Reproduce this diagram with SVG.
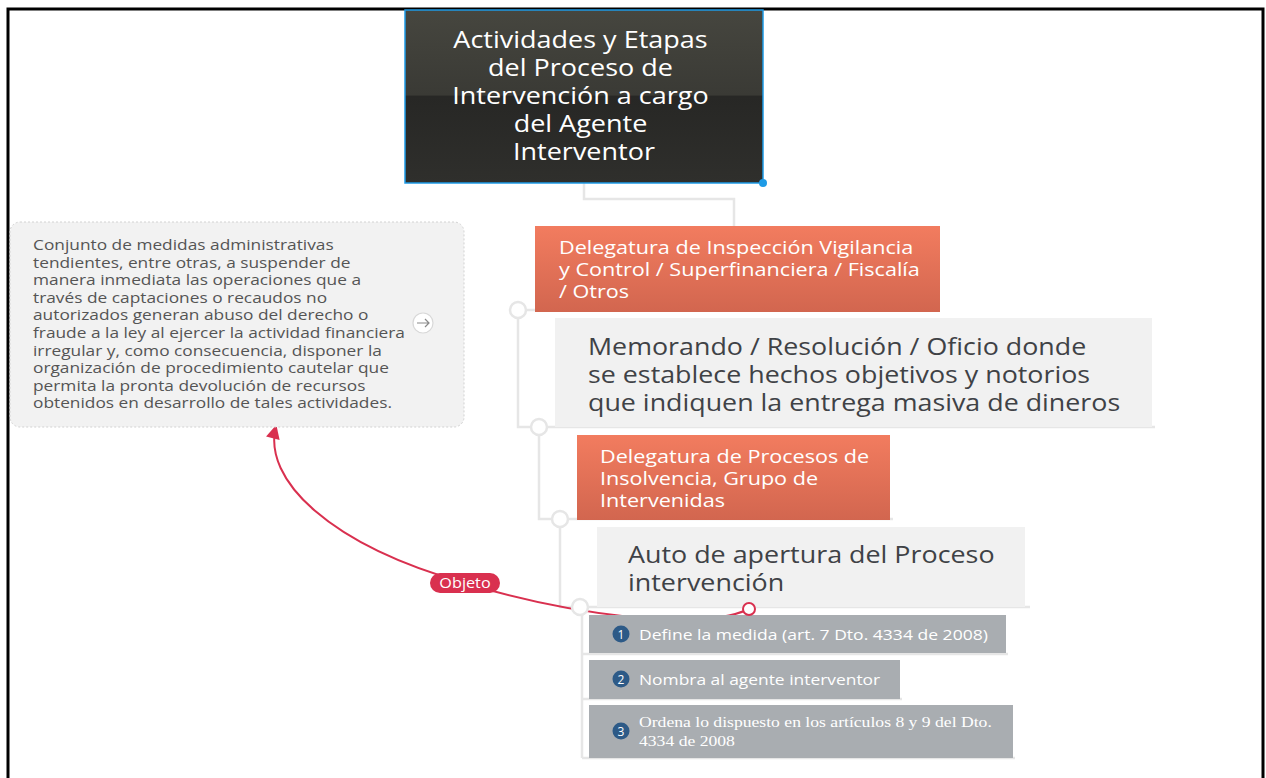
<svg xmlns="http://www.w3.org/2000/svg" width="1266" height="778" viewBox="0 0 1266 778">
<defs>
<style>
.sans{font-family:"Open Sans","Noto Sans","DejaVu Sans",sans-serif}
.root{fill:#ffffff;font-size:24px}
.org{fill:#ffffff;font-size:18px}
.big{fill:#3f4246;font-size:24px}
.note{fill:#555555;font-size:14px}
.item{fill:#ffffff;font-size:15px}
.tree{fill:none;stroke:#e6e6e6;stroke-width:2.5}
.knob{fill:#ffffff;stroke:#e6e6e6;stroke-width:2.5}
.num{fill:#2d5a87}
</style>
<linearGradient id="gRoot" x1="0" y1="0" x2="0" y2="1">
<stop offset="0" stop-color="#46463f"/>
<stop offset="0.49" stop-color="#3a3a35"/>
<stop offset="0.5" stop-color="#272725"/>
<stop offset="1" stop-color="#2f2f2c"/>
</linearGradient>
<linearGradient id="gOrg" x1="0" y1="0" x2="0" y2="1">
<stop offset="0" stop-color="#f27c5f"/>
<stop offset="1" stop-color="#d2664f"/>
</linearGradient>
<marker id="arr" viewBox="0 0 10 10" refX="9" refY="5" markerWidth="8" markerHeight="7" orient="auto" markerUnits="strokeWidth">
<path d="M0,0 L10,5 L0,10 z" fill="#d9304f"/>
</marker>
</defs>
<rect width="1266" height="778" fill="#ffffff"/>
<path d="M8,778 V9 H1263 V778" fill="none" stroke="#000000" stroke-width="3"/>

<g id="connectors">
<path class="tree" d="M584,183 V199 H734 V226"/>
<path class="tree" d="M518,310 H940"/>
<path class="tree" d="M518,310 V427 H1155"/>
<path class="tree" d="M539,427 V519 H893"/>
<path class="tree" d="M560,519 V607 H1030"/>
<path class="tree" d="M582,607 V758"/>
<path class="tree" d="M582,654 H1008 M582,699 H902 M582,758 H1015"/>
<path d="M749,609 C700,632 570,615 465,583 C330,545 262,480 276,426" fill="none" stroke="#d9304f" stroke-width="2" marker-end="url(#arr)"/>
</g>

<g id="root">
<rect x="405" y="10" width="358" height="173" fill="url(#gRoot)" stroke="#1e9be6" stroke-width="1.5"/>
<circle cx="763" cy="183" r="4" fill="#1e9be6"/>
<g transform="translate(584,0) scale(1.125,1) translate(-584,0)">
<text class="sans root" text-anchor="middle">
<tspan x="584" y="48">Actividades y Etapas</tspan>
<tspan x="584" y="76">del Proceso de</tspan>
<tspan x="584" y="104">Intervención a cargo</tspan>
<tspan x="584" y="132">del Agente</tspan>
<tspan x="584" y="160">Interventor</tspan>
</text>
</g>
</g>

<g id="note">
<rect x="10" y="222" width="454" height="205" rx="10" fill="#f2f2f2" stroke="#d2d2d2" stroke-dasharray="2,2"/>
<g transform="translate(33,0) scale(1.237,1) translate(-33,0)">
<text class="sans note">
<tspan x="33" y="250">Conjunto de medidas administrativas</tspan>
<tspan x="33" y="267.6">tendientes, entre otras, a suspender de</tspan>
<tspan x="33" y="285.2">manera inmediata las operaciones que a</tspan>
<tspan x="33" y="302.8">través de captaciones o recaudos no</tspan>
<tspan x="33" y="320.4">autorizados generan abuso del derecho o</tspan>
<tspan x="33" y="338">fraude a la ley al ejercer la actividad financiera</tspan>
<tspan x="33" y="355.6">irregular y, como consecuencia, disponer la</tspan>
<tspan x="33" y="373.2">organización de procedimiento cautelar que</tspan>
<tspan x="33" y="390.8">permita la pronta devolución de recursos</tspan>
<tspan x="33" y="408.4">obtenidos en desarrollo de tales actividades.</tspan>
</text>
</g>
<circle cx="423" cy="323" r="10" fill="#ffffff" stroke="#d8d8d8" stroke-width="1.2"/>
<path d="M417,323 H429 M425,319 L429,323 L425,327" fill="none" stroke="#8a8a8a" stroke-width="1.2"/>
</g>

<g id="deleg1">
<rect x="535" y="226" width="405" height="86" fill="url(#gOrg)"/>
<g transform="translate(559,0) scale(1.2,1) translate(-559,0)">
<text class="sans org">
<tspan x="559" y="254">Delegatura de Inspección Vigilancia</tspan>
<tspan x="559" y="276">y Control / Superfinanciera / Fiscalía</tspan>
<tspan x="559" y="298">/ Otros</tspan>
</text>
</g>
</g>

<g id="memo">
<rect x="555" y="318" width="597" height="109" fill="#f1f1f1"/>
<g transform="translate(588,0) scale(1.118,1) translate(-588,0)">
<text class="sans big">
<tspan x="588" y="355">Memorando / Resolución / Oficio donde</tspan>
<tspan x="588" y="383">se establece hechos objetivos y notorios</tspan>
<tspan x="588" y="411">que indiquen la entrega masiva de dineros</tspan>
</text>
</g>
</g>

<g id="deleg2">
<rect x="577" y="435" width="313" height="85" fill="url(#gOrg)"/>
<g transform="translate(600,0) scale(1.2,1) translate(-600,0)">
<text class="sans org">
<tspan x="600" y="463">Delegatura de Procesos de</tspan>
<tspan x="600" y="485">Insolvencia, Grupo de</tspan>
<tspan x="600" y="507">Intervenidas</tspan>
</text>
</g>
</g>

<g id="auto">
<rect x="597" y="527" width="428" height="80" fill="#f1f1f1"/>
<g transform="translate(628,0) scale(1.12,1) translate(-628,0)">
<text class="sans big">
<tspan x="628" y="563">Auto de apertura del Proceso</tspan>
<tspan x="628" y="591">intervención</tspan>
</text>
</g>
</g>

<g id="knobs">
<circle class="knob" cx="518" cy="310" r="8"/>
<circle class="knob" cx="539" cy="427" r="8"/>
<circle class="knob" cx="560" cy="519" r="8"/>
<circle class="knob" cx="580" cy="607" r="8"/>
</g>

<g id="item1">
<rect x="589" y="615" width="417" height="38" fill="#a9adb1"/>
<circle class="num" cx="621" cy="634" r="8.5"/>
<text class="sans" x="621" y="638.5" text-anchor="middle" fill="#ffffff" font-size="12">1</text>
<text class="sans item" x="639" y="640" transform="translate(639,0) scale(1.17,1) translate(-639,0)">Define la medida (art. 7 Dto. 4334 de 2008)</text>
</g>

<g id="item2">
<rect x="589" y="660" width="311" height="39" fill="#a9adb1"/>
<circle class="num" cx="621" cy="679" r="8.5"/>
<text class="sans" x="621" y="683.5" text-anchor="middle" fill="#ffffff" font-size="12">2</text>
<text class="sans item" x="639" y="685" transform="translate(639,0) scale(1.16,1) translate(-639,0)">Nombra al agente interventor</text>
</g>

<g id="item3">
<rect x="589" y="705" width="424" height="53" fill="#a9adb1"/>
<circle class="num" cx="621" cy="731" r="8.5"/>
<text class="sans" x="621" y="735.5" text-anchor="middle" fill="#ffffff" font-size="12">3</text>
<g transform="translate(639,0) scale(1.175,1) translate(-639,0)">
<text font-family="'Liberation Serif',serif" font-size="15" fill="#ffffff">
<tspan x="639" y="727">Ordena lo dispuesto en los artículos 8 y 9 del Dto.</tspan>
<tspan x="639" y="746">4334 de 2008</tspan>
</text>
</g>
</g>

<g id="objeto">
<circle cx="749" cy="609" r="6" fill="#ffffff" stroke="#d9304f" stroke-width="2"/>
<rect x="430" y="573" width="70" height="20" rx="10" fill="#d9304f"/>
<text class="sans" x="465" y="588" text-anchor="middle" fill="#ffffff" font-size="14" transform="translate(465,0) scale(1.16,1) translate(-465,0)">Objeto</text>
</g>
</svg>
